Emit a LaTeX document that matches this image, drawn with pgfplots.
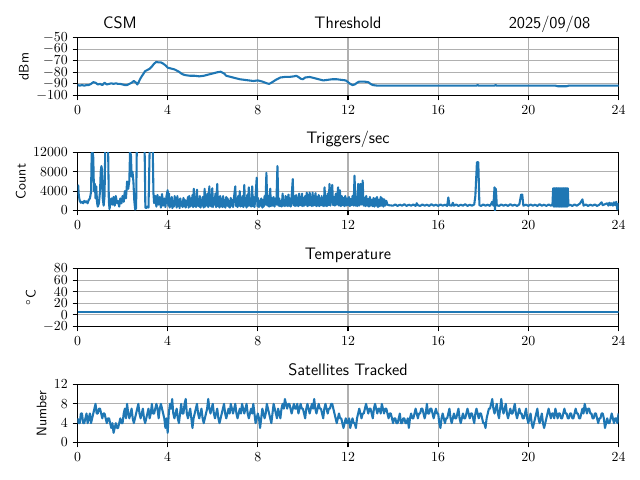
\documentclass[border=0pt]{standalone}
\usepackage{pgfplots}
\pgfplotsset{compat=1.18}
\definecolor{mplblue}{HTML}{1F77B4}
\pgfplotsset{
  myax/.style={
    scale only axis, width=5.41in, height=0.58in,
    anchor=south west,
    xmin=0, xmax=24, xtick={0,4,...,24},
    grid=major, major grid style={color=black!31, line width=0.8pt},
    axis line style={line width=0.8pt},
    tick align=outside, major tick length=3.5pt,
    every tick/.style={black, line width=0.8pt},
    xtick pos=left, ytick pos=left,
    every axis title/.style={font=\sffamily\large, at={(0.5,1)}, anchor=base, yshift=6.7pt},
    ylabel style={font=\sffamily, yshift=-1.5pt},
    cycle list={{mplblue}},
    every axis plot/.append style={line width=1.5pt, line join=round, no markers},
  }
}
\begin{document}
\begin{tikzpicture}
\path[use as bounding box] (0,0) rectangle (6.4in,4.8in);
% Threshold
\begin{axis}[myax, at={(0.775in,3.845in)}, ymin=-100, ymax=-50, ytick={-100,-90,...,-50},
  ylabel={dBm}, title={Threshold}, clip mode=individual]
\addplot coordinates {(0,-91)(0.1,-91.5)(0.2,-91)(0.3,-91.5)(0.4,-91)(0.5,-91)(0.6,-90)(0.7,-88.5)(0.8,-89)(0.9,-90.5)(1.0,-90)(1.1,-91)(1.2,-89)(1.3,-90.5)(1.4,-90)(1.5,-89.5)(1.6,-90)(1.7,-89.5)(1.8,-90)(1.9,-90)(2.0,-90.5)(2.1,-91)(2.2,-91)(2.3,-90)(2.4,-89)(2.5,-87.5)(2.6,-89)(2.65,-90.5)(2.7,-89)(2.8,-85)(2.9,-82)(3.0,-79)(3.1,-78)(3.2,-77)(3.3,-75)(3.4,-72.5)(3.5,-71)(3.6,-71.5)(3.7,-71.5)(3.8,-72.5)(3.9,-74)(4.0,-76)(4.1,-76.5)(4.2,-77)(4.3,-77.5)(4.4,-78.5)(4.5,-79.5)(4.6,-81)(4.7,-82)(4.8,-82.5)(5.0,-83)(5.2,-83)(5.4,-83.5)(5.6,-83)(5.8,-82)(6.0,-81)(6.2,-80)(6.35,-79.5)(6.5,-81)(6.6,-83)(6.8,-84)(7.0,-85)(7.2,-86)(7.4,-86.5)(7.6,-87)(7.8,-87.5)(8.0,-87)(8.2,-88)(8.4,-89.5)(8.5,-90)(8.6,-89)(8.8,-86.5)(9.0,-84.5)(9.2,-84)(9.4,-84)(9.6,-83.5)(9.7,-83)(9.8,-84)(9.9,-85.5)(10.0,-86)(10.1,-84.5)(10.3,-84)(10.5,-85)(10.7,-86)(10.9,-87)(11.1,-86.5)(11.3,-86)(11.5,-86)(11.7,-86.5)(11.9,-87)(12.0,-88.5)(12.1,-90)(12.2,-91)(12.3,-90.5)(12.4,-89)(12.5,-88)(12.7,-88)(12.9,-88.5)(13.0,-90)(13.1,-91)(13.3,-91.5)(13.6,-91.5)(14,-91.5)(16,-91.5)(17.7,-91.5)(17.75,-91)(17.8,-91.5)(18.5,-91.5)(18.55,-91)(18.6,-91.5)(21.2,-91.5)(21.3,-92)(21.7,-92)(21.8,-91.5)(24,-91.5)};
\node[font=\sffamily\large, anchor=base west, yshift=6.7pt] at (rel axis cs:0.0384,1) {CSM};
\node[font=\sffamily\large, anchor=base east, yshift=6.7pt] at (rel axis cs:0.9566,1) {2025/09/08};
\end{axis}
% Triggers
\begin{axis}[myax, at={(0.775in,2.695in)}, ymin=0, ymax=12000, ytick={0,4000,8000,12000},
  scaled y ticks=false, yticklabel style={/pgf/number format/1000 sep={}},
  ylabel={Count}, title={Triggers/sec}]
\addplot coordinates {(0,4800)(0.03,5200)(0.06,3000)(0.1,2000)(0.15,1600)(0.2,1800)(0.25,1500)(0.3,2000)(0.35,1700)(0.4,1900)(0.45,1500)(0.5,2200)(0.55,2500)(0.6,3800)(0.63,11800)(0.67,12000)(0.7,11000)(0.73,4000)(0.77,5500)(0.8,2500)(0.83,5000)(0.87,1500)(0.9,800)(0.95,1500)(1.0,4000)(1.03,8000)(1.06,9200)(1.09,8500)(1.12,2500)(1.16,1000)(1.2,3000)(1.23,12500)(1.27,13000)(1.3,12500)(1.33,13000)(1.36,12000)(1.39,2000)(1.42,300)(1.46,1500)(1.5,2500)(1.55,1200)(1.6,2800)(1.65,1000)(1.7,3000)(1.75,1500)(1.8,2000)(1.85,800)(1.9,2500)(1.95,1500)(2.0,3000)(2.05,1800)(2.1,4000)(2.15,2500)(2.2,6000)(2.25,4500)(2.3,6200)(2.33,12000)(2.37,11500)(2.4,7000)(2.44,8000)(2.48,6000)(2.52,2000)(2.56,200)(2.6,500)(2.63,12500)(2.67,13000)(2.7,12500)(2.75,13000)(2.8,12800)(2.85,13000)(2.9,12500)(2.95,13000)(2.98,12000)(3.01,600)(3.05,500)(3.1,800)(3.15,600)(3.2,12500)(3.25,13000)(3.3,12500)(3.34,12000)(3.37,3500)(3.4,1500)(3.45,3000)(3.5,800)(3.55,3200)(3.6,1200)(3.65,2800)(3.7,600)(3.75,3400)(3.8,1000)(3.85,2500)(3.9,700)(3.95,3000)
(4.00,4200)(4.03,1000)(4.06,3500)(4.09,600)(4.12,2400)(4.15,900)(4.18,2800)(4.21,500)(4.25,2000)(4.28,800)(4.31,3000)(4.34,1200)(4.37,2500)(4.4,600)(4.43,3000)(4.46,900)(4.5,2200)(4.53,500)(4.56,2500)(4.6,1000)(4.63,1800)(4.66,700)(4.7,2600)(4.73,900)(4.76,2200)(4.8,600)(4.83,2000)(4.86,1100)(4.9,2800)(4.93,600)(4.96,3000)(5.0,800)(5.03,2500)(5.06,1000)(5.1,3200)(5.13,700)(5.16,4500)(5.2,900)(5.23,2800)(5.26,700)(5.3,4300)(5.33,1000)(5.36,2400)(5.4,800)(5.43,3000)(5.46,600)(5.5,2200)(5.53,1000)(5.56,2800)(5.6,600)(5.64,4500)(5.67,800)(5.7,3000)(5.73,1100)(5.76,3500)(5.8,700)(5.85,5000)(5.88,1000)(5.91,3200)(5.94,800)(5.98,4600)(6.01,700)(6.04,2600)(6.08,1200)(6.12,3500)(6.15,700)(6.2,5500)(6.23,900)(6.26,2800)(6.3,600)(6.33,3000)(6.36,900)(6.4,2400)(6.43,700)(6.46,3000)(6.5,800)(6.53,2200)(6.56,600)(6.6,2800)(6.63,1000)(6.66,2500)(6.7,800)(6.73,2000)(6.76,600)(6.8,2600)(6.83,1000)(6.86,2200)(6.9,700)(6.95,3000)(7.0,5000)(7.03,900)(7.06,2500)(7.1,700)(7.13,3000)(7.16,1000)(7.2,4000)(7.23,800)(7.26,2600)(7.3,900)(7.33,3000)(7.36,700)(7.4,5300)(7.43,1000)(7.46,2500)(7.5,600)(7.53,3200)(7.56,900)(7.6,4800)(7.63,1000)(7.66,2500)(7.7,800)(7.75,5000)(7.78,900)(7.82,2800)(7.85,700)(7.9,3000)(7.95,6800)(7.98,900)(8.01,2600)(8.05,700)(8.08,2000)(8.12,1000)(8.15,2500)(8.2,600)(8.23,2200)(8.26,800)(8.3,3000)(8.34,1200)(8.38,7800)(8.42,1000)(8.46,3000)(8.5,800)(8.55,4500)(8.58,900)(8.62,2600)(8.66,1000)(8.7,2800)(8.74,800)(8.78,2400)(8.82,1200)(8.87,9200)(8.91,1000)(8.95,2500)(8.98,900)(9.02,2000)(9.06,800)(9.1,3500)(9.13,1000)(9.16,2200)(9.2,900)(9.23,3000)(9.26,1000)(9.3,2800)(9.33,900)(9.36,3300)(9.4,1000)(9.43,2400)(9.46,800)(9.5,3000)(9.55,6500)(9.58,1100)(9.62,3000)(9.65,900)(9.7,3200)(9.73,1000)(9.76,2600)(9.8,900)(9.83,3500)(9.86,1100)(9.9,2800)(9.93,1000)(9.96,3500)(10.0,900)(10.03,2600)(10.06,1000)(10.1,3000)(10.13,1200)(10.17,3700)(10.2,900)(10.23,3200)(10.26,1000)(10.3,3700)(10.33,1100)(10.36,2800)(10.4,900)(10.43,3700)(10.46,1000)(10.5,3000)(10.53,1100)(10.56,3600)(10.6,900)(10.63,2800)(10.66,1000)(10.7,3200)(10.73,900)(10.76,2500)(10.8,1100)(10.83,3000)(10.86,1000)(10.9,2600)(10.93,900)(10.96,4800)(11.0,1000)(11.03,3000)(11.06,900)(11.1,3500)(11.14,1100)(11.18,5500)(11.22,1000)(11.26,3000)(11.3,5300)(11.34,1100)(11.38,2800)(11.42,1000)(11.46,3500)(11.5,1200)(11.56,4800)(11.6,1000)(11.64,4200)(11.68,900)(11.72,3000)(11.76,1100)(11.8,2600)(11.84,900)(11.88,3000)(11.92,1000)(11.96,2500)(12.0,1100)(12.04,2800)(12.08,900)(12.12,2400)(12.16,1100)(12.2,3000)(12.25,1000)(12.29,7200)(12.33,1000)(12.37,2800)(12.41,900)(12.45,5500)(12.49,1000)(12.55,5500)(12.58,1200)(12.62,3000)(12.65,6200)(12.69,1000)(12.73,2600)(12.77,900)(12.81,3000)(12.85,1000)(12.89,2400)(12.93,800)(12.97,2800)(13.01,1000)(13.05,2200)(13.09,900)(13.13,2600)(13.17,800)(13.21,2500)(13.25,1000)(13.29,2800)(13.33,700)(13.37,2200)(13.41,900)(13.45,2800)(13.49,1000)(13.53,2500)(13.57,800)(13.61,2300)(13.65,1000)(13.7,2000)(13.75,1200)(13.8,1100)
(14.0,1000)(14.1,1250)(14.2,950)(14.3,1200)(14.4,1000)(14.5,1300)(14.6,950)(14.7,1200)(14.8,1000)(14.9,1250)(15.0,950)(15.05,1500)(15.1,1100)(15.2,950)(15.3,1250)(15.4,1000)(15.5,1200)(15.6,950)(15.7,1300)(15.8,1000)(15.9,1200)(16.0,950)(16.1,1250)(16.2,1000)(16.3,1200)(16.4,950)(16.45,2700)(16.5,1100)(16.6,1000)(16.65,1600)(16.7,1000)(16.8,1250)(16.9,950)(17.0,1200)(17.1,1000)(17.2,1300)(17.3,950)(17.4,1200)(17.5,1000)(17.6,1250)(17.65,3000)(17.72,10000)(17.78,10000)(17.83,1100)(17.9,950)(18.0,1250)(18.1,1000)(18.2,1200)(18.3,950)(18.4,1800)(18.45,1000)(18.5,4800)(18.52,0)(18.56,4500)(18.6,1100)(18.7,950)(18.8,1250)(18.9,1000)(19.0,1200)(19.1,950)(19.2,1300)(19.3,1000)(19.4,1200)(19.5,950)(19.6,1250)(19.68,3300)(19.73,3300)(19.78,1000)(19.9,1200)(20.0,950)(20.1,1250)(20.2,1000)(20.3,1200)(20.4,950)(20.5,1300)(20.6,1000)(20.7,1200)(20.8,950)(20.9,1250)(21.0,1000)(21.07,1200)(21.1,4600)(21.125,800)(21.15,4600)(21.175,800)(21.2,4600)(21.225,800)(21.25,4600)(21.275,800)(21.3,4600)(21.325,800)(21.35,4600)(21.375,800)(21.4,4600)(21.425,800)(21.45,4600)(21.475,800)(21.5,4600)(21.525,800)(21.55,4600)(21.575,800)(21.6,4600)(21.625,800)(21.65,4600)(21.675,800)(21.7,4600)(21.725,800)(21.75,4600)(21.78,1000)(21.85,1200)(21.95,950)(22.05,1250)(22.15,1000)(22.25,1300)(22.3,1500)(22.4,2300)(22.45,1000)(22.55,1250)(22.65,950)(22.75,1200)(22.85,1000)(22.95,1250)(23.05,950)(23.15,1200)(23.25,1700)(23.3,1100)(23.4,1300)(23.5,1500)(23.55,1000)(23.6,1600)(23.65,1100)(23.7,1500)(23.75,1000)(23.8,1700)(23.85,1100)(23.9,1800)(23.95,200)(24,1500)};
\end{axis}
% Temperature
\begin{axis}[myax, at={(0.775in,1.535in)}, ymin=-20, ymax=80, ytick={-20,0,...,80},
  ylabel={$^\circ$C}, title={Temperature}]
\addplot coordinates {(0,5.5)(24,5.5)};
\end{axis}
% Satellites
\begin{axis}[myax, at={(0.775in,0.375in)}, ymin=0, ymax=12, ytick={0,4,8,12},
  ylabel={Number}, title={Satellites Tracked}]
\addplot coordinates {(0.0,5)(0.05,4)(0.1,4)(0.15,6)(0.2,6)(0.25,4)(0.3,4)(0.35,5)(0.4,6)(0.45,4)(0.5,5)(0.55,6)(0.6,4)(0.65,5)(0.7,6)(0.75,7)(0.8,8)(0.85,6)(0.9,6)(0.95,7)
(1.0,7)(1.05,6)(1.1,5)(1.15,6)(1.2,6)(1.25,5)(1.3,4)(1.35,5)(1.4,5)(1.45,4)(1.5,3)(1.55,4)(1.6,2)(1.65,3)(1.7,4)(1.75,3)(1.8,3)(1.85,4)(1.9,5)(1.95,4)
(2.0,4)(2.05,6)(2.1,7)(2.15,5)(2.2,8)(2.25,6)(2.3,5)(2.35,6)(2.4,7)(2.45,5)(2.5,4)(2.55,5)(2.6,6)(2.65,7)(2.7,8)(2.75,6)(2.8,5)(2.85,6)(2.9,7)(2.95,5)
(3.0,4)(3.05,5)(3.1,6)(3.15,7)(3.2,5)(3.25,6)(3.3,8)(3.35,6)(3.4,6)(3.45,7)(3.5,8)(3.55,7)(3.6,5)(3.65,7)(3.7,8)(3.75,7)(3.8,6)(3.85,5)(3.9,3)(3.95,5)
(4.0,2)(4.05,6)(4.1,8)(4.15,7)(4.2,9)(4.25,6)(4.3,5)(4.35,6)(4.4,7)(4.45,5)(4.5,4)(4.55,6)(4.6,8)(4.65,6)(4.7,6)(4.75,8)(4.8,9)(4.85,6)(4.9,5)(4.95,6)
(5.0,7)(5.05,5)(5.1,3)(5.15,5)(5.2,6)(5.25,7)(5.3,8)(5.35,6)(5.4,5)(5.45,6)(5.5,7)(5.55,5)(5.6,4)(5.65,5)(5.7,6)(5.75,7)(5.8,9)(5.85,7)(5.9,6)(5.95,7)
(6.0,8)(6.05,6)(6.1,5)(6.15,6)(6.2,7)(6.25,5)(6.3,4)(6.35,5)(6.4,6)(6.45,7)(6.5,8)(6.55,6)(6.6,5)(6.65,6)(6.7,7)(6.75,6)(6.8,8)(6.85,7)(6.9,6)(6.95,7)
(7.0,8)(7.05,6)(7.1,5)(7.15,6)(7.2,7)(7.25,6)(7.3,8)(7.35,7)(7.4,6)(7.45,7)(7.5,8)(7.55,6)(7.6,5)(7.65,6)(7.7,7)(7.75,6)(7.8,8)(7.85,6)(7.9,4)(7.95,5)
(8.0,6)(8.05,5)(8.1,3)(8.15,5)(8.2,7)(8.25,6)(8.3,5)(8.35,6)(8.4,8)(8.45,7)(8.5,6)(8.55,5)(8.6,4)(8.65,6)(8.7,8)(8.75,7)(8.8,6)(8.85,5)(8.9,7)(8.95,6)
(9.0,5)(9.05,7)(9.1,8)(9.15,7)(9.2,9)(9.25,8)(9.3,7)(9.35,8)(9.4,8)(9.45,7)(9.5,6)(9.55,7)(9.6,8)(9.65,7)(9.7,7)(9.75,8)(9.8,6)(9.85,7)(9.9,8)(9.95,7)
(10.0,7)(10.05,6)(10.1,5)(10.15,7)(10.2,8)(10.25,7)(10.3,6)(10.35,7)(10.4,8)(10.45,7)(10.5,9)(10.55,7)(10.6,6)(10.65,7)(10.7,8)(10.75,7)(10.8,7)(10.85,6)(10.9,5)(10.95,7)
(11.0,8)(11.05,7)(11.1,6)(11.15,7)(11.2,7)(11.25,8)(11.3,8)(11.35,7)(11.4,6)(11.45,5)(11.5,4)(11.55,5)(11.6,6)(11.65,5)(11.7,5)(11.75,4)(11.8,3)(11.85,4)(11.9,5)(11.95,4)
(12.0,4)(12.05,5)(12.1,3)(12.15,4)(12.2,5)(12.25,4)(12.3,4)(12.35,3)(12.4,5)(12.45,6)(12.5,7)(12.55,6)(12.6,5)(12.65,6)(12.7,6)(12.75,7)(12.8,8)(12.85,7)(12.9,6)(12.95,7)
(13.0,7)(13.05,6)(13.1,5)(13.15,7)(13.2,8)(13.25,7)(13.3,6)(13.35,7)(13.4,7)(13.45,6)(13.5,8)(13.55,7)(13.6,6)(13.65,7)(13.7,7)(13.75,6)(13.8,5)(13.85,6)(13.9,6)(13.95,5)
(14.0,4)(14.05,5)(14.1,5)(14.15,4)(14.2,4)(14.25,5)(14.3,6)(14.35,4)(14.4,4)(14.45,5)(14.5,5)(14.55,4)(14.6,4)(14.65,5)(14.7,3)(14.75,5)(14.8,6)(14.85,5)(14.9,5)(14.95,6)
(15.0,7)(15.05,6)(15.1,5)(15.15,6)(15.2,6)(15.25,7)(15.3,7)(15.35,6)(15.4,5)(15.45,6)(15.5,8)(15.55,6)(15.6,6)(15.65,7)(15.7,7)(15.75,6)(15.8,5)(15.85,6)(15.9,7)(15.95,6)
(16.0,6)(16.05,4)(16.1,3)(16.15,5)(16.2,6)(16.25,5)(16.3,4)(16.35,5)(16.4,5)(16.45,6)(16.5,7)(16.55,5)(16.6,4)(16.65,5)(16.7,6)(16.75,5)(16.8,5)(16.85,6)(16.9,7)(16.95,5)
(17.0,4)(17.05,5)(17.1,6)(17.15,5)(17.2,5)(17.25,6)(17.3,7)(17.35,6)(17.4,5)(17.45,6)(17.5,6)(17.55,5)(17.6,4)(17.65,6)(17.7,7)(17.75,6)(17.8,5)(17.85,6)(17.9,6)(17.95,5)
(18.0,4)(18.05,4)(18.1,3)(18.15,5)(18.2,6)(18.25,7)(18.3,7)(18.35,8)(18.4,9)(18.45,7)(18.5,6)(18.55,7)(18.6,8)(18.65,6)(18.7,5)(18.75,7)(18.8,9)(18.85,7)(18.9,6)(18.95,7)
(19.0,8)(19.05,6)(19.1,5)(19.15,6)(19.2,7)(19.25,6)(19.3,6)(19.35,7)(19.4,8)(19.45,6)(19.5,5)(19.55,6)(19.6,7)(19.65,6)(19.7,6)(19.75,5)(19.8,5)(19.85,6)(19.9,7)(19.95,5)
(20.0,4)(20.05,5)(20.1,6)(20.15,4)(20.2,3)(20.25,4)(20.3,5)(20.35,6)(20.4,7)(20.45,5)(20.5,4)(20.55,5)(20.6,6)(20.65,4)(20.7,3)(20.75,4)(20.8,5)(20.85,6)(20.9,7)(20.95,6)
(21.0,5)(21.05,6)(21.1,6)(21.15,5)(21.2,7)(21.25,6)(21.3,5)(21.35,6)(21.4,6)(21.45,5)(21.5,5)(21.55,6)(21.6,7)(21.65,6)(21.7,6)(21.75,5)(21.8,5)(21.85,6)(21.9,6)(21.95,5)
(22.0,5)(22.05,6)(22.1,7)(22.15,6)(22.2,6)(22.25,5)(22.3,5)(22.35,6)(22.4,7)(22.45,6)(22.5,8)(22.55,7)(22.6,6)(22.65,7)(22.7,7)(22.75,6)(22.8,6)(22.85,5)(22.9,5)(22.95,6)
(23.0,6)(23.05,5)(23.1,4)(23.15,5)(23.2,5)(23.25,6)(23.3,6)(23.35,5)(23.4,3)(23.45,4)(23.5,5)(23.55,4)(23.6,4)(23.65,5)(23.7,6)(23.75,5)(23.8,4)(23.85,5)(23.9,5)(23.95,4)(24.0,6)};
\end{axis}
\end{tikzpicture}
\end{document}
